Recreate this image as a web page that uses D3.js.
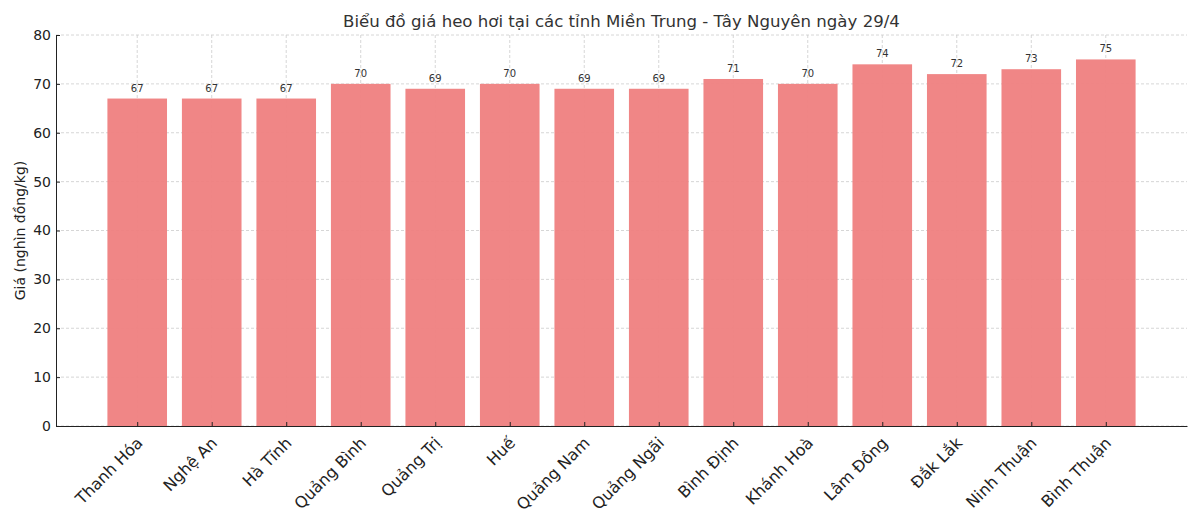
<!DOCTYPE html>
<html>
<head>
<meta charset="utf-8">
<script src="https://cdn.jsdelivr.net/npm/d3@7"></script>
<style>
  body { margin: 0; background: #fff; }
  text { font-family: "DejaVu Sans", sans-serif; }
  .grid line { stroke: #cccccc; stroke-dasharray: 3,2; stroke-width: 0.8; }
  .axis path, .axis line { stroke: #222; }
</style>
</head>
<body>
<div id="chart"></div>
<script>
// provinces and live hog price (thousand VND / kg)
var provinces = ["Thanh Hóa", "Nghệ An", "Hà Tĩnh", "Quảng Bình", "Quảng Trị", "Huế", "Quảng Nam",
    "Quảng Ngãi", "Bình Định", "Khánh Hoà", "Lâm Đồng", "Đắk Lắk", "Ninh Thuận", "Bình Thuận"];
var prices = [67, 67, 67, 70, 69, 70, 69, 69, 71, 70, 74, 72, 73, 75];
var yTicks = [0, 10, 20, 30, 40, 50, 60, 70, 80];

var svgWidth = 1200, svgHeight = 514;
var margin = { top: 35, right: 13, bottom: 88, left: 56 };
var width = svgWidth - margin.left - margin.right;
var height = svgHeight - margin.top - margin.bottom;

var svg = d3.select("#chart").append("svg")
    .attr("width", svgWidth)
    .attr("height", svgHeight);

var chartGroup = svg.append("g")
    .attr("transform", `translate(${margin.left}, ${margin.top})`);

// matplotlib-like x limits: bars of width 0.8 plus 5% margins
var n = provinces.length;
var span = (n - 1) + 0.8;
var pad = span * 0.05;
var xScale = d3.scaleLinear()
    .domain([-0.4 - pad, n - 1 + 0.4 + pad])
    .range([0, width]);

var yScale = d3.scaleLinear()
    .domain([0, 80])
    .range([height, 0]);

// grid
chartGroup.append("g")
    .attr("class", "grid")
    .selectAll("line.h")
    .data(yTicks)
    .enter()
    .append("line")
    .attr("x1", 0).attr("x2", width)
    .attr("y1", d => yScale(d)).attr("y2", d => yScale(d));

chartGroup.append("g")
    .attr("class", "grid")
    .selectAll("line.v")
    .data(provinces)
    .enter()
    .append("line")
    .attr("x1", (d, i) => xScale(i)).attr("x2", (d, i) => xScale(i))
    .attr("y1", 0).attr("y2", height);

// bars
var barW = xScale(0.8) - xScale(0);
chartGroup.append("g")
    .selectAll("rect")
    .data(prices)
    .enter()
    .append("rect")
    .attr("x", (d, i) => xScale(i - 0.4))
    .attr("y", d => yScale(d))
    .attr("width", barW)
    .attr("height", d => height - yScale(d))
    .attr("fill", "#ef7f7f")
    .attr("fill-opacity", 0.95);

// value labels
chartGroup.append("g")
    .selectAll("text")
    .data(prices)
    .enter()
    .append("text")
    .attr("x", (d, i) => xScale(i))
    .attr("y", d => yScale(d) - 7)
    .attr("text-anchor", "middle")
    .attr("font-size", "10px")
    .attr("fill", "#333")
    .text(d => d);

// axes
var bottomAxis = d3.axisBottom(xScale)
    .tickValues(d3.range(n))
    .tickFormat(i => provinces[i])
    .tickSizeInner(-4)
    .tickSizeOuter(0);

var leftAxis = d3.axisLeft(yScale)
    .tickValues(yTicks)
    .tickSizeInner(-4)
    .tickSizeOuter(0);

var xAxisG = chartGroup.append("g")
    .attr("class", "axis")
    .attr("transform", `translate(0, ${height})`)
    .call(bottomAxis);

xAxisG.selectAll("text")
    .attr("font-size", "16px")
    .attr("fill", "#222")
    .attr("text-anchor", "end")
    .attr("transform", "translate(2, 14) rotate(-45)")
    .attr("dy", "0.35em")
    .attr("y", 0)
    .attr("x", 0);

var yAxisG = chartGroup.append("g")
    .attr("class", "axis")
    .call(leftAxis);

yAxisG.selectAll("text")
    .attr("font-size", "14px")
    .attr("fill", "#222")
    .attr("x", -5);

// labels
chartGroup.append("text")
    .attr("transform", "rotate(-90)")
    .attr("x", -height / 2)
    .attr("y", -31)
    .attr("text-anchor", "middle")
    .attr("font-size", "14px")
    .attr("fill", "#222")
    .text("Giá (nghìn đồng/kg)");

svg.append("text")
    .attr("x", margin.left + width / 2)
    .attr("y", 27)
    .attr("text-anchor", "middle")
    .attr("font-size", "16.6px")
    .attr("fill", "#333")
    .text("Biểu đồ giá heo hơi tại các tỉnh Miền Trung - Tây Nguyên ngày 29/4");
</script>
</body>
</html>
